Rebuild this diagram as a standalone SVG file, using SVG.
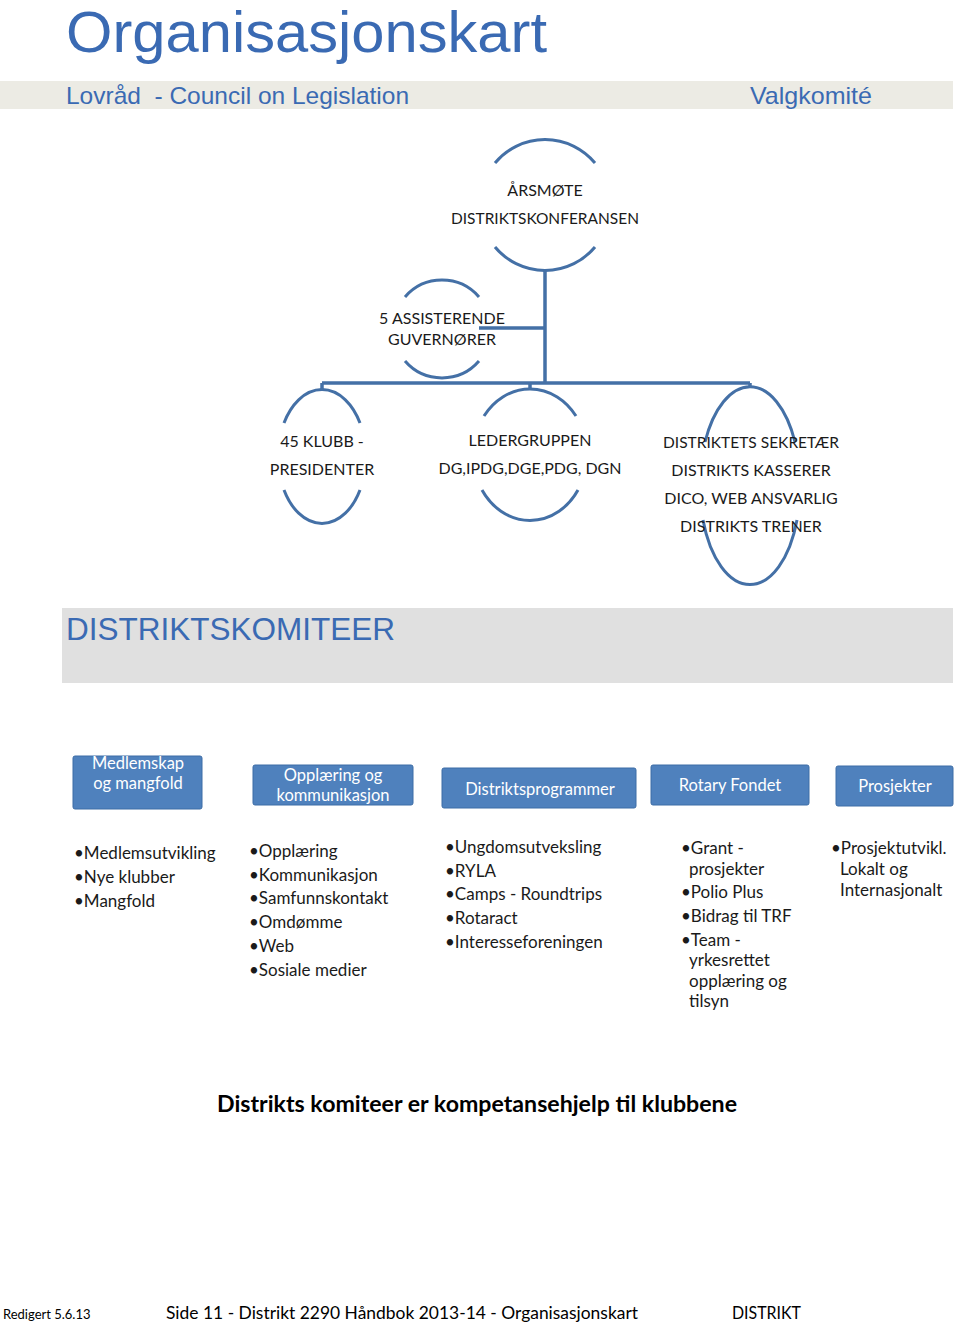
<svg xmlns="http://www.w3.org/2000/svg" width="960" height="1324" viewBox="0 0 960 1324">
<style>
.ttl{font-family:"Liberation Sans",Arial,sans-serif;fill:#3a6ab3}
.arc{fill:none;stroke:#4470a6;stroke-width:3}
.con{fill:none;stroke:#4470a6;stroke-width:3.5}
.nt{font-family:Lato,"Open Sans",sans-serif;font-size:16px;fill:#1a1a1a;text-anchor:middle}
.bx{fill:#4f81bd;stroke:#3d6ca6;stroke-width:1}
.bt{font-family:Lato,"Open Sans",sans-serif;font-size:16.5px;fill:#ffffff;text-anchor:middle}
.li{font-family:Lato,"Open Sans",sans-serif;font-size:17px;fill:#1a1a1a}
.ft{font-family:Lato,"Open Sans",sans-serif;fill:#000}
</style>
<rect width="960" height="1324" fill="#ffffff"/>
<g id="header">
<text class="ttl" x="66" y="52" font-size="57" textLength="481" lengthAdjust="spacingAndGlyphs">Organisasjonskart</text>
<rect x="0" y="81" width="953" height="28" fill="#ecebe4"/>
<text class="ttl" x="66" y="104" font-size="24" xml:space="preserve" textLength="343" lengthAdjust="spacingAndGlyphs">Lovråd  - Council on Legislation</text>
<text class="ttl" x="750" y="104" font-size="24" textLength="122" lengthAdjust="spacingAndGlyphs">Valgkomité</text>
</g>
<g id="connectors">
<path class="con" d="M545,270 V383 M479,328 H545 M322,383 H750 M322,383 V390 M530,383 V389 M750,383 V388"/>
</g>
<g id="arsmote">
<path class="arc" d="M495,163 A65,65 0 0 1 595,163"/>
<path class="arc" d="M495,247 A65,65 0 0 0 595,247"/>
<text class="nt" x="545" y="196">ÅRSMØTE</text>
<text class="nt" x="545" y="224" textLength="188" lengthAdjust="spacingAndGlyphs">DISTRIKTSKONFERANSEN</text>
</g>
<g id="assisterende">
<path class="arc" d="M405,297 A49,49 0 0 1 479,297"/>
<path class="arc" d="M405,361 A49,49 0 0 0 479,361"/>
<text class="nt" x="442" y="324">5 ASSISTERENDE</text>
<text class="nt" x="442" y="345">GUVERNØRER</text>
</g>
<g id="klubb">
<path class="arc" d="M284,423 A44,67.5 0 0 1 360,423"/>
<path class="arc" d="M284,490 A44,67.5 0 0 0 360,490"/>
<text class="nt" x="322" y="447">45 KLUBB -</text>
<text class="nt" x="322" y="475">PRESIDENTER</text>
</g>
<g id="ledergruppen">
<path class="arc" d="M484,416 A57,66 0 0 1 576,416"/>
<path class="arc" d="M482,490 A57,66 0 0 0 578,490"/>
<text class="nt" x="530" y="446">LEDERGRUPPEN</text>
<text class="nt" x="530" y="474">DG,IPDG,DGE,PDG, DGN</text>
</g>
<g id="sekretaer">
<path class="arc" d="M705,442 A50,98 0 0 1 795,442"/>
<path class="arc" d="M703,520 A50,98 0 0 0 797,520"/>
<text class="nt" x="751" y="448" textLength="176" lengthAdjust="spacingAndGlyphs">DISTRIKTETS SEKRETÆR</text>
<text class="nt" x="751" y="476">DISTRIKTS KASSERER</text>
<text class="nt" x="751" y="504">DICO, WEB ANSVARLIG</text>
<text class="nt" x="751" y="532">DISTRIKTS TRENER</text>
</g>
<g id="distriktskomiteer">
<rect x="62" y="608" width="891" height="75" fill="#e0e0e0"/>
<text class="ttl" x="66" y="640" font-size="32" textLength="329" lengthAdjust="spacingAndGlyphs">DISTRIKTSKOMITEER</text>
</g>
<g id="medlemskap">
<rect class="bx" x="73" y="756" width="129" height="53" rx="2"/>
<text class="bt" x="138" y="769">Medlemskap</text>
<text class="bt" x="138" y="789">og mangfold</text>
<text class="li" x="74" y="859">•Medlemsutvikling</text>
<text class="li" x="74" y="883">•Nye klubber</text>
<text class="li" x="74" y="907">•Mangfold</text>
</g>
<g id="opplaering">
<rect class="bx" x="253" y="765" width="160" height="40" rx="2"/>
<text class="bt" x="333" y="781">Opplæring og</text>
<text class="bt" x="333" y="801">kommunikasjon</text>
<text class="li" x="249" y="857">•Opplæring</text>
<text class="li" x="249" y="881">•Kommunikasjon</text>
<text class="li" x="249" y="904">•Samfunnskontakt</text>
<text class="li" x="249" y="928">•Omdømme</text>
<text class="li" x="249" y="952">•Web</text>
<text class="li" x="249" y="976">•Sosiale medier</text>
</g>
<g id="distriktsprogrammer">
<rect class="bx" x="442" y="768" width="194" height="40" rx="2"/>
<text class="bt" x="540" y="795">Distriktsprogrammer</text>
<text class="li" x="445" y="853">•Ungdomsutveksling</text>
<text class="li" x="445" y="877">•RYLA</text>
<text class="li" x="445" y="900">•Camps - Roundtrips</text>
<text class="li" x="445" y="924">•Rotaract</text>
<text class="li" x="445" y="948">•Interesseforeningen</text>
</g>
<g id="rotaryfondet">
<rect class="bx" x="651" y="765" width="158" height="40" rx="2"/>
<text class="bt" x="730" y="791">Rotary Fondet</text>
<text class="li" x="681" y="854">•Grant -</text>
<text class="li" x="689" y="875">prosjekter</text>
<text class="li" x="681" y="898">•Polio Plus</text>
<text class="li" x="681" y="922">•Bidrag til TRF</text>
<text class="li" x="681" y="946">•Team -</text>
<text class="li" x="689" y="966">yrkesrettet</text>
<text class="li" x="689" y="987">opplæring og</text>
<text class="li" x="689" y="1007">tilsyn</text>
</g>
<g id="prosjekter">
<rect class="bx" x="836" y="766" width="117" height="40" rx="2"/>
<text class="bt" x="895" y="792">Prosjekter</text>
<text class="li" x="831" y="854">•Prosjektutvikl.</text>
<text class="li" x="840" y="875">Lokalt og</text>
<text class="li" x="840" y="896">Internasjonalt</text>
</g>
<g id="footer">
<text class="ft" x="217" y="1112" font-size="22" font-weight="bold" textLength="520" lengthAdjust="spacingAndGlyphs">Distrikts komiteer er kompetansehjelp til klubbene</text>
<text class="ft" x="3" y="1319" font-size="13">Redigert 5.6.13</text>
<text class="ft" x="166" y="1319" font-size="18" textLength="472" lengthAdjust="spacingAndGlyphs">Side 11 - Distrikt 2290 Håndbok 2013-14 - Organisasjonskart</text>
<text class="ft" x="732" y="1319" font-size="18" textLength="69" lengthAdjust="spacingAndGlyphs">DISTRIKT</text>
</g>
</svg>
